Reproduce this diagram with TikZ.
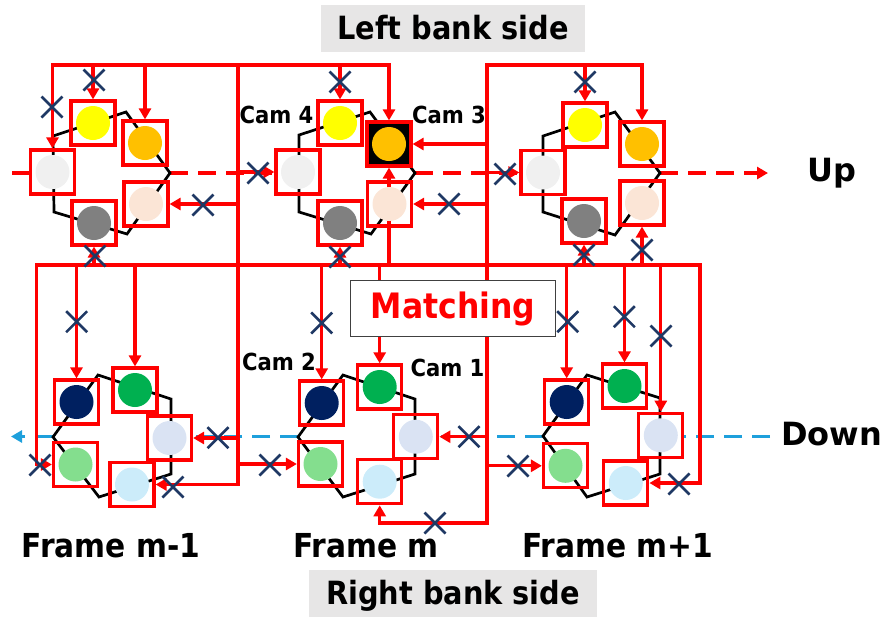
\documentclass[tikz,border=0pt]{standalone}
\usepackage{fontspec}
\setmainfont{DejaVu Sans}
\newfontfamily\lblfont[FakeStretch=0.9]{DejaVu Sans}
\newfontfamily\widefont{DejaVu Sans}
\usetikzlibrary{arrows.meta}
\pgfdeclarelayer{back}
\pgfsetlayers{back,main}

\definecolor{cYellow}{RGB}{255,255,0}
\definecolor{cOrange}{RGB}{255,192,0}
\definecolor{cWhite}{RGB}{240,240,240}
\definecolor{cPeach}{RGB}{251,229,214}
\definecolor{cGray}{RGB}{128,128,128}
\definecolor{cNavy}{RGB}{0,32,96}
\definecolor{cGreen}{RGB}{0,176,80}
\definecolor{cLav}{RGB}{218,227,243}
\definecolor{cLGreen}{RGB}{132,222,142}
\definecolor{cLCyan}{RGB}{204,236,250}
\definecolor{cX}{RGB}{31,56,100}
\definecolor{cBlue}{RGB}{30,160,220}
\definecolor{cBank}{RGB}{231,230,230}
\definecolor{cFrame}{RGB}{64,64,64}

\tikzset{
  xm/.pic={\draw[cX, line width=2.6pt] (-10.5,-10.5) -- (10.5,10.5) (-10.5,10.5) -- (10.5,-10.5);}
}

\begin{document}
\begin{tikzpicture}[x=1pt,y=-1pt,
  cam/.style={draw=red, line width=3.2pt, minimum size=44pt, inner sep=0pt,
    path picture={\fill[#1] (path picture bounding box.center) circle (17pt);}},
  wire/.style={draw=red, line width=3.2pt, line cap=rect},
  feed/.style={wire, -{Triangle[length=11pt,width=12pt]}},
  pent/.style={draw=black, line width=2.7pt},
  updash/.style={draw=red, line width=3.2pt, dash pattern=on 18pt off 10pt},
  dndash/.style={draw=cBlue, line width=3.2pt, dash pattern=on 18pt off 10pt},
  camlbl/.style={anchor=base, inner sep=0pt, font=\lblfont\bfseries\fontsize{23.5pt}{28pt}\selectfont},
  framelbl/.style={anchor=base, inner sep=0pt, font=\lblfont\bfseries\fontsize{33pt}{38pt}\selectfont},
  dirlbl/.style={anchor=base west, inner sep=0pt, font=\widefont\bfseries\fontsize{32pt}{38pt}\selectfont},
  bank/.style={fill=cBank, inner sep=0pt, text height=22pt, text depth=0pt,
    font=\lblfont\bfseries\fontsize{32pt}{38pt}\selectfont},
]
\useasboundingbox (0,0) rectangle (888,619);

% ---- camera rings, upper row (left bank side)
\node[cam=cYellow] (ul-y) at (93,123) {};
\node[cam=cOrange] (ul-o) at (145,143) {};
\node[cam=cWhite]  (ul-w) at (52.5,172) {};
\node[cam=cPeach]  (ul-p) at (146,204) {};
\node[cam=cGray]   (ul-g) at (94,223) {};

\node[cam=cYellow] (um-y) at (340,123) {};
\node[cam=cOrange, fill=black] (um-o) at (389,144) {};
\node[cam=cWhite]  (um-w) at (298,172) {};
\node[cam=cPeach]  (um-p) at (389.5,204) {};
\node[cam=cGray]   (um-g) at (340,223) {};

\node[cam=cYellow] (ur-y) at (585,125) {};
\node[cam=cOrange] (ur-o) at (642,144) {};
\node[cam=cWhite]  (ur-w) at (543,172.5) {};
\node[cam=cPeach]  (ur-p) at (642,203) {};
\node[cam=cGray]   (ur-g) at (584,221) {};

% ---- camera rings, lower row (right bank side)
\node[cam=cNavy]   (ll-n)  at (76.5,402) {};
\node[cam=cGreen]  (ll-g)  at (135,390) {};
\node[cam=cLav]    (ll-l)  at (169.5,438) {};
\node[cam=cLGreen] (ll-lg) at (75.5,464.5) {};
\node[cam=cLCyan]  (ll-lc) at (132,484.5) {};

\node[cam=cNavy]   (lm-n)  at (321.7,403) {};
\node[cam=cGreen]  (lm-g)  at (379.7,387) {};
\node[cam=cLav]    (lm-l)  at (415.8,436.7) {};
\node[cam=cLGreen] (lm-lg) at (320.5,464) {};
\node[cam=cLCyan]  (lm-lc) at (379.7,481.7) {};

\node[cam=cNavy]   (lr-n)  at (566.7,402) {};
\node[cam=cGreen]  (lr-g)  at (624.5,386) {};
\node[cam=cLav]    (lr-l)  at (660.8,435.3) {};
\node[cam=cLGreen] (lr-lg) at (565.5,465.8) {};
\node[cam=cLCyan]  (lr-lc) at (625.8,483) {};

% ---- ring outlines
\coordinate (ul-A) at (53,136);  \coordinate (ul-B) at (126,112); \coordinate (ul-C) at (170,173);
\coordinate (ul-D) at (127,234); \coordinate (ul-E) at (54,212);
\coordinate (um-A) at (299,135); \coordinate (um-B) at (370,112); \coordinate (um-C) at (415,173);
\coordinate (um-D) at (371,234); \coordinate (um-E) at (299,212);
\coordinate (ur-A) at (543,136); \coordinate (ur-B) at (615,112); \coordinate (ur-C) at (660,173);
\coordinate (ur-D) at (615,235); \coordinate (ur-E) at (543,212);
\coordinate (ll-L) at (53,437);  \coordinate (ll-T) at (98,375);  \coordinate (ll-RT) at (171,399);
\coordinate (ll-RB) at (171,474); \coordinate (ll-B) at (99,497);
\coordinate (lm-L) at (298,437); \coordinate (lm-T) at (343,375); \coordinate (lm-RT) at (415,399);
\coordinate (lm-RB) at (415,474); \coordinate (lm-B) at (343,497);
\coordinate (lr-L) at (543,436); \coordinate (lr-T) at (587,375); \coordinate (lr-RT) at (660,398);
\coordinate (lr-RB) at (660,474); \coordinate (lr-B) at (587,497);

% ---- bus positions
\coordinate (top) at (0,65);
\coordinate (mid) at (0,265);
\coordinate (bot) at (0,523);
\coordinate (spA) at (238,0);
\coordinate (spB) at (487,0);
\coordinate (edL) at (36.7,0);
\coordinate (edR) at (700,0);
\coordinate (upS) at (12,173);
\coordinate (upE) at (768,173);
\coordinate (dnS) at (770,436.5);
\coordinate (dnE) at (11,436.5);

% ---- labels
\node[fill=white, draw=cFrame, line width=1pt, minimum width=205pt, minimum height=56.5pt,
      inner sep=0pt, text=red, font=\lblfont\bfseries\fontsize{35pt}{40pt}\selectfont]
      (match) at (453,308.5) {Matching};
\node[bank, minimum width=264pt, minimum height=47pt] (lbank) at (453,28.5) {Left bank side};
\node[bank, minimum width=288pt, minimum height=47pt] (rbank) at (453,593.5) {Right bank side};
\node[camlbl] (cam4) at (276.5,123.3) {Cam 4};
\node[camlbl] (cam3) at (449,123) {Cam 3};
\node[camlbl] (cam2) at (279,370) {Cam 2};
\node[camlbl] (cam1) at (447.5,376) {Cam 1};
\node[framelbl] (fm1) at (111,557) {Frame m-1};
\node[framelbl] (fm0) at (366,557) {Frame m};
\node[framelbl] (fp1) at (617.5,557) {Frame m+1};
\node[dirlbl] (up) at (807,181.7) {Up};
\node[dirlbl] (down) at (781,445) {Down};

\begin{pgfonlayer}{back}
  % direction lines
  \draw[updash] (upS) -- (ul-w.west |- upS);
  \draw[updash] (ul-C) -- (um-w.west |- ul-C);
  \draw[updash] (um-C) -- (ur-w.west |- um-C);
  \draw[updash, -{Triangle[length=11pt,width=12pt]}] (ur-C) -- (upE);
  \draw[dndash] (dnS) -- (lr-l.east |- dnS);
  \draw[dndash] (lr-L |- dnS) -- (lm-l.east |- dnS);
  \draw[dndash] (lm-L |- dnS) -- (ll-l.east |- dnS);
  \draw[dndash, -{Triangle[length=11pt,width=12pt]}] (ll-L |- dnS) -- (dnE);

  % ring outlines
  \foreach \r in {ul,um,ur}
    \draw[pent] (\r-A) -- (\r-B) -- (\r-C) -- (\r-D) -- (\r-E) -- cycle;
  \foreach \r in {ll,lm,lr}
    \draw[pent] (\r-L) -- (\r-T) -- (\r-RT) -- (\r-RB) -- (\r-B) -- cycle;

  % buses
  \draw[wire] (ul-w.north |- top) -- (um-o.north |- top);
  \draw[wire] (spB |- top) -- (ur-o.north |- top);
  \draw[wire] (spA |- top) -- (spA |- ll-lc);
  \draw[wire] (spB |- top) -- (spB |- bot);
  \draw[wire] (edL |- mid) -- (edR |- mid);

  % frame m-1, upper
  \draw[feed] (ul-w.north |- top) -- (ul-w.north);
  \draw[feed] (ul-y.north |- top) -- (ul-y.north);
  \draw[feed] (ul-o.north |- top) -- (ul-o.north);
  \draw[feed] (spA |- ul-p) -- (ul-p.east);
  \draw[feed] (ul-g.south |- mid) -- (ul-g.south);
  % frame m, upper
  \draw[feed] (um-y.north |- top) -- (um-y.north);
  \draw[feed] (um-o.north |- top) -- (um-o.north);
  \draw[feed] (spB |- um-o) -- (um-o.east);
  \draw[feed] (um-o.south |- mid) -- (um-o.south);
  \draw[feed] (spA |- um-w) -- (um-w.west);
  \draw[feed] (spB |- um-p) -- (um-p.east);
  \draw[feed] (um-g.south |- mid) -- (um-g.south);
  % frame m+1, upper
  \draw[feed] (ur-y.north |- top) -- (ur-y.north);
  \draw[feed] (ur-o.north |- top) -- (ur-o.north);
  \draw[feed] (spB |- ur-w) -- (ur-w.west);
  \draw[feed] (ur-p.south |- mid) -- (ur-p.south);
  \draw[feed] (ur-g.south |- mid) -- (ur-g.south);
  % frame m-1, lower
  \draw[feed] (ll-n.north |- mid) -- (ll-n.north);
  \draw[feed] (ll-g.north |- mid) -- (ll-g.north);
  \draw[feed] (spA |- ll-l) -- (ll-l.east);
  \draw[feed] (edL |- mid) -- (edL |- ll-lg) -- (ll-lg.west);
  \draw[feed] (spA |- ll-lc) -- (ll-lc.east);
  % frame m, lower
  \draw[feed] (lm-n.north |- mid) -- (lm-n.north);
  \draw[feed] (lm-g.north |- mid) -- (lm-g.north);
  \draw[feed] (spB |- lm-l) -- (lm-l.east);
  \draw[feed] (spA |- lm-lg) -- (lm-lg.west);
  \draw[feed] (spB |- bot) -- (lm-lc.south |- bot) -- (lm-lc.south);
  % frame m+1, lower
  \draw[feed] (lr-n.north |- mid) -- (lr-n.north);
  \draw[feed] (lr-g.north |- mid) -- (lr-g.north);
  \draw[feed] (lr-l.north |- mid) -- (lr-l.north);
  \draw[feed] (spB |- lr-lg) -- (lr-lg.west);
  \draw[feed] (edR |- mid) -- (edR |- lr-lc) -- (lr-lc.east);
\end{pgfonlayer}

% ---- blocked links
\foreach \p in {(52,107),(94,80),(203,205),(95,256),
                (340,82),(258,173),(449,204),(340,257),
                (585,82),(505,174),(642,250),(584,255),
                (76.7,321.7),(218,437.7),(40,465),(173,487),
                (321.7,323),(469,436.7),(270,465),(435,523),
                (567.7,321.7),(624.3,316.7),(661,336),(518,466),(679,484)}
  \pic at \p {xm};
\end{tikzpicture}
\end{document}
